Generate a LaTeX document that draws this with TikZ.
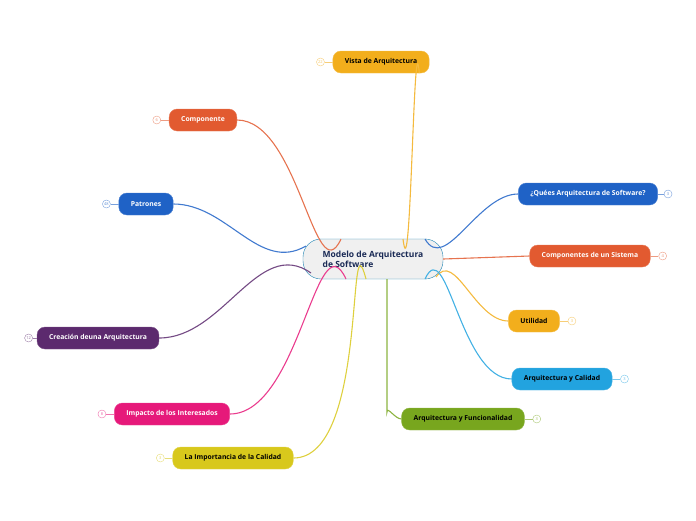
\documentclass[tikz,border=0pt]{standalone}
\usepackage{fontspec}
\setmainfont{Open Sans}
\usetikzlibrary{positioning, calc}
\definecolor{cgold}{HTML}{F2AE1C}
\definecolor{corange}{HTML}{E25A30}
\definecolor{cblue}{HTML}{1F62C6}
\definecolor{cpurple}{HTML}{5C2A6E}
\definecolor{cpink}{HTML}{E6197A}
\definecolor{cyellow}{HTML}{D8C81C}
\definecolor{ccyan}{HTML}{22A3DF}
\definecolor{cgreen}{HTML}{78A61E}
\definecolor{cnavy}{HTML}{1A2A55}
\tikzset{
    topic/.style = {rounded corners=8pt, minimum height=22pt, inner xsep=12pt,
        font=\fontsize{6.8}{8}\selectfont\bfseries, draw=#1!80!white, fill=#1},
    darktopic/.style = {topic=#1, text=white},
    lighttopic/.style = {topic=#1, text=black},
    count/.style = {circle, draw=#1!60!white, fill=white, inner sep=0pt,
        minimum size=8pt, font=\fontsize{4}{4}\selectfont, text=#1!70!white},
    branch/.style = {draw=#1!85!white, line width=1.1pt},
}
\begin{document}
\begin{tikzpicture}[x=1pt,y=-1pt]
            \useasboundingbox (0,0) rectangle (696,520);
            \node (root) [rounded corners=18pt, draw=ccyan!80!black, fill=gray!12,
                minimum width=140pt, minimum height=40pt, align=left, text=cnavy,
                font=\fontsize{8.5}{10}\selectfont\bfseries] at (373,259)
                {Modelo de Arquitectura\\de Software};
            % left side
            \node (vista) [lighttopic=cgold] at (381,62) {Vista de Arquitectura};
            \node (comp) [darktopic=corange] at (203,120) {Componente};
            \node (patr) [darktopic=cblue] at (146,204) {Patrones};
            \node (crea) [darktopic=cpurple] at (98,338) {Creación deuna Arquitectura};
            \node (impa) [darktopic=cpink] at (172,414) {Impacto de los Interesados};
            \node (impo) [lighttopic=cyellow] at (233,458) {La Importancia de la Calidad};
            % right side
            \node (que) [darktopic=cblue] at (588,194) {¿Quées Arquitectura de Software?};
            \node (sist) [darktopic=corange] at (590,256) {Componentes de un Sistema};
            \node (util) [lighttopic=cgold] at (534,321) {Utilidad};
            \node (cali) [lighttopic=ccyan] at (562,379) {Arquitectura y Calidad};
            \node (func) [lighttopic=cgreen] at (463,419) {Arquitectura y Funcionalidad};
            % counters
            \node (nvista) [count=cgold, left=8pt of vista] {22};
            \node (ncomp) [count=corange, left=8pt of comp] {6};
            \node (npatr) [count=cblue, left=8pt of patr] {48};
            \node (ncrea) [count=cpurple, left=4pt of crea] {12};
            \node (nimpa) [count=cpink, left=8pt of impa] {8};
            \node (nimpo) [count=cyellow, left=8pt of impo] {3};
            \node (nque) [count=cblue, right=6pt of que] {3};
            \node (nsist) [count=corange, right=8pt of sist] {4};
            \node (nutil) [count=cgold, right=8pt of util] {3};
            \node (ncali) [count=ccyan, right=8pt of cali] {3};
            \node (nfunc) [count=cgreen, right=8pt of func] {3};
            \foreach \t/\c in {vista/cgold, comp/corange, patr/cblue, crea/cpurple, impa/cpink, impo/cyellow}
                \draw[draw=\c!60!white, line width=0.8pt] (\t.west) -- (n\t);
            \foreach \t/\c in {que/cblue, sist/corange, util/cgold, cali/ccyan, func/cgreen}
                \draw[draw=\c!60!white, line width=0.8pt] (\t.east) -- (n\t);
            % branches
            \draw[branch=cgold] (403,239) to[out=277, in=95] ($(vista.south east)+(-10,0)$);
            \draw[branch=corange] (341,239) to[out=245, in=0] (comp.east);
            \draw[branch=cblue] (306,246) to[out=210, in=0] (patr.east);
            \draw[branch=cpurple] (311,273) to[out=145, in=0] (crea.east);
            \draw[branch=cpink] (346,279) to[out=115, in=0] (impa.east);
            \draw[branch=cyellow] (366,279) to[out=105, in=0] (impo.east);
            \draw[branch=cgreen] (387,279) -- (387,412) to[out=90, in=180] (func.west);
            \draw[branch=cblue] (425,239) to[out=300, in=180] (que.west);
            \draw[branch=corange] (root.east) -- (sist.west);
            \draw[branch=cgold] (436,277) to[out=55, in=180] (util.west);
            \draw[branch=ccyan] (425,279) to[out=65, in=180] (cali.west);
\end{tikzpicture}
\end{document}
